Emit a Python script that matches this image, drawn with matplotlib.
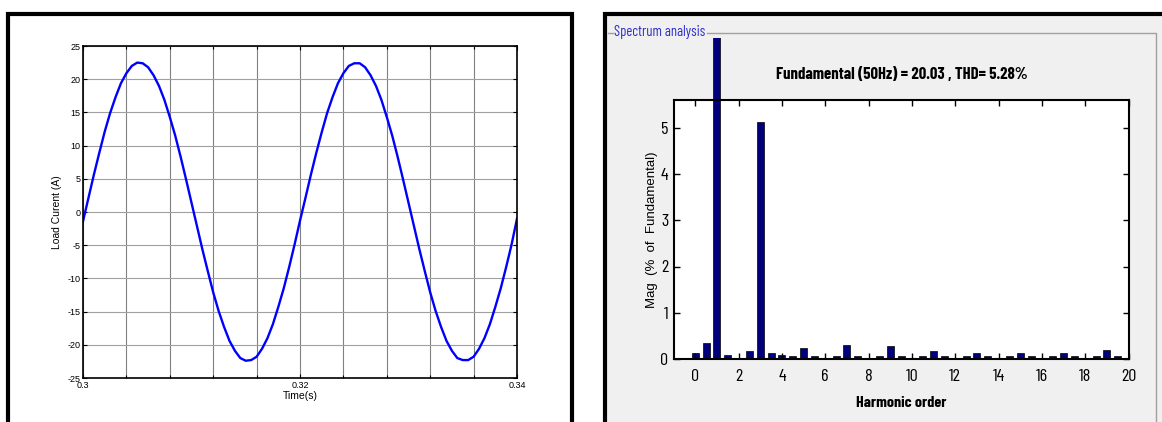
import numpy as np
import matplotlib
matplotlib.use("Agg")
import matplotlib.pyplot as plt
import matplotlib.patches as patches
from matplotlib.lines import Line2D
from matplotlib.transforms import Bbox, TransformedBbox
from matplotlib import font_manager

# load current, one sample every 0.5 ms
time_start = 0.30
time_step = 0.0005
load_current = [
    -1.4, 2.1, 5.6, 8.9, 12.1, 14.9, 17.3, 19.4, 20.9, 22.0,
    22.5, 22.4, 21.8, 20.6, 19.0, 16.9, 14.3, 11.5, 8.3, 4.9,
    1.4, -2.1, -5.6, -8.9, -12.1, -14.9, -17.3, -19.4, -20.9, -22.0,
    -22.4, -22.3, -21.8, -20.6, -19.0, -16.9, -14.3, -11.5, -8.3, -4.9,
    -1.3, 2.1, 5.6, 8.9, 12.0, 14.9, 17.3, 19.4, 20.9, 22.0,
    22.4, 22.4, 21.8, 20.6, 19.0, 16.9, 14.3, 11.5, 8.3, 4.9,
    1.4, -2.1, -5.6, -8.9, -12.1, -14.9, -17.3, -19.4, -20.9, -22.0,
    -22.3, -22.3, -21.8, -20.6, -19.0, -16.9, -14.3, -11.5, -8.3, -4.9,
    -1.0,
]

# FFT spectrum (% of fundamental), half-harmonic resolution
harmonic_order = [i * 0.5 for i in range(40)]
harmonic_mag = [
    0.12, 0.35, 100.0, 0.09, 0.02, 0.17, 5.13, 0.12, 0.09, 0.06,
    0.23, 0.06, 0.02, 0.06, 0.31, 0.06, 0.02, 0.06, 0.28, 0.06,
    0.02, 0.06, 0.17, 0.06, 0.02, 0.06, 0.14, 0.06, 0.02, 0.06,
    0.14, 0.06, 0.02, 0.06, 0.12, 0.06, 0.02, 0.06, 0.20, 0.06,
]
spectrum_title = "Fundamental (50Hz) = 20.03 , THD= 5.28%"

W, H = 1162, 422


def fx(x):
    return x / W


def fy(y):
    return 1 - y / H


def pick_narrow():
    names = set(f.name for f in font_manager.fontManager.ttflist)
    for n in ["Barlow Condensed", "Archivo Narrow", "Asap Condensed"]:
        if n in names:
            return n
    return "DejaVu Sans"


def main():
    narrow = pick_narrow()
    plt.rcParams['font.family'] = ['Liberation Sans', 'DejaVu Sans']
    plt.rcParams['axes.unicode_minus'] = False

    fig = plt.figure(figsize=(W / 100, H / 100), dpi=100)
    fig.patch.set_facecolor('white')

    # panel frames
    fig.patches.append(patches.Rectangle((fx(8), fy(440)), fx(564), (440 - 14) / H,
                                         transform=fig.transFigure, facecolor='white',
                                         edgecolor='black', lw=3, zorder=0))
    fig.patches.append(patches.Rectangle((fx(605), fy(440)), fx(600), (440 - 14) / H,
                                         transform=fig.transFigure, facecolor='#f0f0f0',
                                         edgecolor='black', lw=3, zorder=0))
    fig.lines.append(Line2D([fx(608), fx(613)], [fy(33), fy(33)], transform=fig.transFigure,
                            color='#a0a0a0', lw=1))
    fig.lines.append(Line2D([fx(707), fx(1156), fx(1156)], [fy(33), fy(33), fy(422)],
                            transform=fig.transFigure, color='#a0a0a0', lw=1))
    fig.text(fx(614), fy(32), "Spectrum analysis", color='#2e2ec8', fontsize=10.5,
             family=narrow, va='center', ha='left')

    # ---- left: load current ----
    ax1 = fig.add_axes([fx(83), fy(378), fx(517 - 83), (378 - 46) / H])
    ax1.set_zorder(3)
    t = time_start + time_step * np.arange(len(load_current))
    ax1.plot(t, load_current, color='#0000ff', lw=1.7)
    ax1.set_xlim(0.30, 0.34)
    ax1.set_ylim(-25, 25)
    ax1.set_xticks([0.30, 0.32, 0.34])
    ax1.set_xticklabels(['0.3', '0.32', '0.34'])
    ax1.set_xticks(np.arange(0.30, 0.3401, 0.004), minor=True)
    ax1.set_yticks(np.arange(-25, 26, 5))
    ax1.grid(True, which='both', axis='x', color='#808080', lw=0.8)
    ax1.grid(True, which='major', axis='y', color='#a0a0a0', lw=0.8)
    ax1.tick_params(which='both', direction='in', top=True, right=True,
                    labelsize=6.5, length=3, width=0.8, pad=2)
    ax1.tick_params(which='minor', length=2)
    ax1.set_xlabel("Time(s)", fontsize=7.5, labelpad=1)
    ax1.set_ylabel("Load Curent (A)", fontsize=7.5, labelpad=4)
    for s in ax1.spines.values():
        s.set_linewidth(1.2)

    # ---- right: spectrum ----
    ax2 = fig.add_axes([fx(674), fy(359), fx(1129 - 674), (359 - 100) / H])
    ax2.set_zorder(3)
    ax2.set_facecolor('white')
    bars = ax2.bar(harmonic_order, harmonic_mag, width=0.32, color='#00007a',
                   edgecolor='black', lw=0.5)
    # the fundamental bar runs out of the axes, up to just under the group box line
    clip = TransformedBbox(Bbox([[0, 0], [1, fy(38)]]), fig.transFigure)
    for b in bars:
        b.set_clip_box(clip)
    ax2.set_xlim(-0.98, 20.02)
    ax2.set_ylim(0, 5.6)
    ax2.set_xticks(range(0, 21, 2))
    ax2.set_yticks(range(0, 6))
    ax2.tick_params(direction='in', top=True, right=True, length=4, width=1,
                    labelsize=13)
    ax2.tick_params(axis='x', pad=7)
    ax2.tick_params(axis='y', pad=4)
    for lab in ax2.get_xticklabels() + ax2.get_yticklabels():
        lab.set_family(narrow)
    ax2.set_title(spectrum_title, fontsize=12, fontweight='bold', family=narrow, pad=15)
    ax2.set_xlabel("Harmonic order", fontsize=11.5, fontweight='bold', family=narrow, labelpad=9)
    ax2.set_ylabel("Mag  (%  of  Fundamental)", fontsize=9.5, labelpad=2)
    for s in ax2.spines.values():
        s.set_linewidth(1.5)

    fig.savefig("out.png", dpi=100)


if __name__ == '__main__':
    main()
